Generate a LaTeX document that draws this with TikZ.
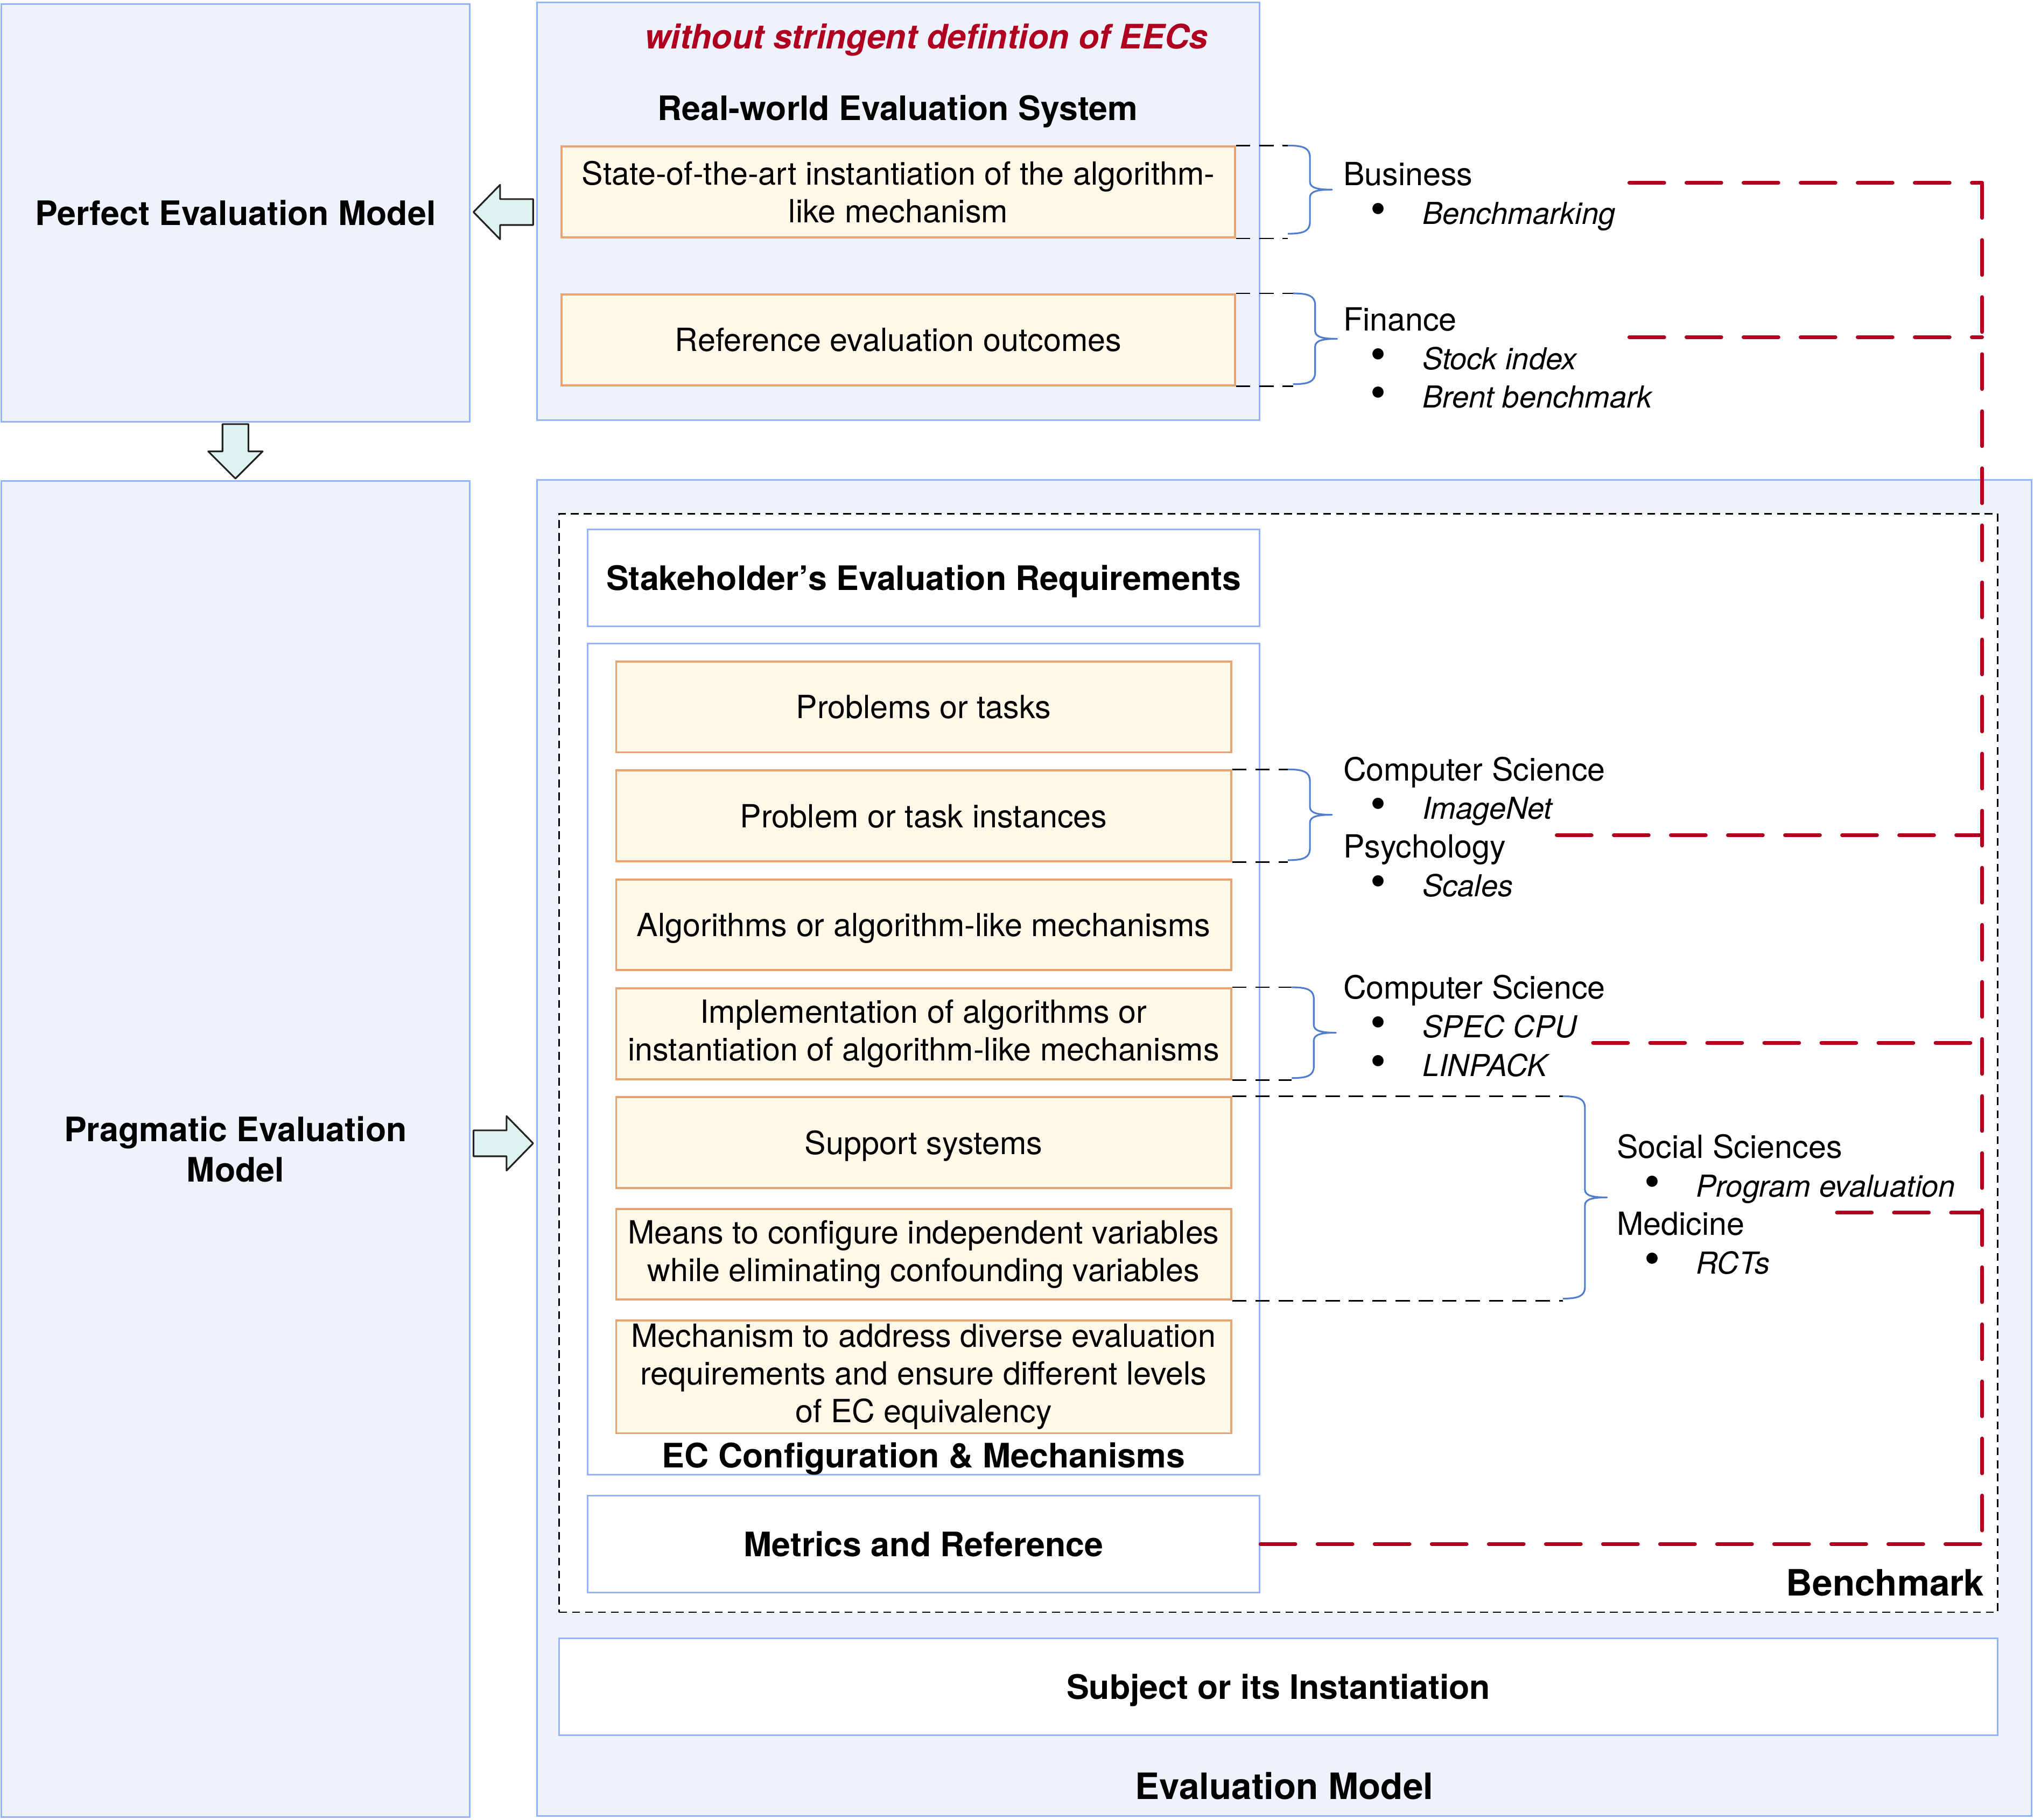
\documentclass[tikz,border=0pt]{standalone}
\usepackage{fontspec}
\setmainfont{TeX Gyre Heros}
\usetikzlibrary{calc}

\definecolor{boxfill}{RGB}{238,242,253}
\definecolor{boxline}{RGB}{148,180,250}
\definecolor{orfill}{RGB}{255,247,232}
\definecolor{orline}{RGB}{232,164,112}
\definecolor{linkred}{RGB}{176,0,32}
\definecolor{braceblue}{RGB}{80,125,205}
\definecolor{arrowfill}{RGB}{222,243,240}
\definecolor{arrowline}{RGB}{34,34,34}

\newcommand{\bul}{\hspace*{21pt}\scalebox{1.4}{\textbullet}\hspace{28pt}}
\newcommand{\ex}[1]{{\fontsize{23.3}{29.7}\selectfont\itshape #1}}
% right-pointing curly brace, #1 = straight part of each half
\newcommand{\curlyto}[1]{.. controls +(12,0) and +(0,-7) .. ++(17,9) -- ++(0,#1) .. controls +(0,5) and +(-10,0) .. ++(17,6) .. controls +(-10,0) and +(0,-5) .. ++(-17,6) -- ++(0,#1) .. controls +(0,7) and +(12,0) .. ++(-17,9)}

\tikzset{every picture/.style={line width=1pt}}
\tikzset{
  bluebox/.style={draw=boxline, fill=boxfill, line width=1.3pt, inner sep=0pt},
  whitebox/.style={draw=boxline, fill=white, line width=1.3pt, inner sep=0pt},
  orangebox/.style={draw=orline, fill=orfill, line width=1.6pt, inner sep=0pt, align=center,
    font=\fontsize{24.6}{29}\selectfont, minimum width=474, minimum height=70},
  boldtext/.style={font=\fontsize{26}{31}\selectfont\bfseries, align=center},
  flat/.style={text depth=0pt},
  sidetext/.style={font=\fontsize{24.6}{29.7}\selectfont, align=left, anchor=west, inner sep=0pt},
  benchbox/.style={draw=black, fill=white, dash pattern=on 6pt off 4pt, line width=1.2pt, inner sep=0pt},
  bracelink/.style={draw=black, dash pattern=on 11pt off 7pt, line width=1.1pt},
  curly/.style={draw=braceblue, line width=1.3pt, line join=round},
  redlink/.style={draw=linkred, line width=2.8pt, dash pattern=on 27pt off 17pt, line cap=round},
  blockarrow/.style={draw=arrowline, fill=arrowfill, line width=1.3pt, line join=round},
}

\begin{document}
\begin{tikzpicture}[x=1pt,y=1pt,yscale=-1,xscale=1]
	\useasboundingbox (0,0) rectangle (1568,1403);

	%Shape: Rectangle [perfect model]
	\node[bluebox, boldtext, flat, minimum width=361, minimum height=322] (perfect) at (181.5,164) {Perfect Evaluation Model};
	%Shape: Rectangle [real-world system]
	\node[bluebox, minimum width=557, minimum height=322] (realworld) at (692.5,163) {};
	\node[orangebox, minimum width=519] (sota) at (692.5,148) {State-of-the-art instantiation of the algorithm-\\like mechanism};
	\node[orangebox, flat, minimum width=519] (refout) at (692.5,262) {Reference evaluation outcomes};
	% Text Node
	\node[boldtext, flat, text=linkred, font=\fontsize{26}{31}\selectfont\bfseries\itshape] (stringent) at (714,28) {without stringent defintion of EECs};
	% Text Node
	\node[boldtext, flat] (rwtitle) at (692,83) {Real-world Evaluation System};

	%Shape: Rectangle [pragmatic model]
	\node[bluebox, boldtext, minimum width=361, minimum height=1030] (pragmatic) at (181.5,886) {Pragmatic Evaluation\\Model};
	%Shape: Rectangle [evaluation model]
	\node[bluebox, minimum width=1152, minimum height=1030] (evalmodel) at (990,885) {};
	\node[benchbox, minimum width=1109, minimum height=847] (bench) at (985.5,819.5) {};
	\node[whitebox, boldtext, flat, minimum width=518, minimum height=75] (stake) at (712,445.5) {Stakeholder’s Evaluation Requirements};
	\node[whitebox, minimum width=518, minimum height=641] (ecconf) at (712,816.5) {};

	%Shape: Rectangle [EC items]
	\node[orangebox, flat] (p1) at (712,545) {Problems or tasks};
	\node[orangebox, flat] (p2) at (712,629) {Problem or task instances};
	\node[orangebox, flat] (p3) at (712,713) {Algorithms or algorithm-like mechanisms};
	\node[orangebox] (p4) at (712,797) {Implementation of algorithms or\\instantiation of algorithm-like mechanisms};
	\node[orangebox, flat] (p5) at (712,881) {Support systems};
	\node[orangebox] (p6) at (712,967) {Means to configure independent variables\\while eliminating confounding variables};
	\node[orangebox, minimum height=87] (p7) at (712,1061.5) {Mechanism to address diverse evaluation\\requirements and ensure different levels\\of EC equivalency};

	\node[whitebox, boldtext, flat, minimum width=518, minimum height=75] (metrics) at (712,1190.5) {Metrics and Reference};
	\node[whitebox, boldtext, flat, minimum width=1109, minimum height=75] (subject) at (985.5,1300.5) {Subject or its Instantiation};

	% Text Node
	\node[boldtext, flat] (eclabel) at (712,1122) {EC Configuration \& Mechanisms};
	% Text Node
	\node[boldtext, flat, font=\fontsize{28}{33}\selectfont\bfseries, anchor=east, inner sep=0pt] (benchlabel) at (1530,1220) {Benchmark};
	% Text Node
	\node[boldtext, flat, font=\fontsize{28}{33}\selectfont\bfseries] (evallabel) at (990,1377) {Evaluation Model};

	% Text Node [fields]
	\node[sidetext] (business) at (1035,151.5) {Business\\\bul\ex{Benchmarking}};
	\node[sidetext] (finance) at (1035,276) {Finance\\\bul\ex{Stock index}\\\bul\ex{Brent benchmark}};
	\node[sidetext] (imagenet) at (1035,637.5) {Computer Science\\\bul\ex{ImageNet}\\Psychology\\\bul\ex{Scales}};
	\node[sidetext] (speccpu) at (1035,791) {Computer Science\\\bul\ex{SPEC CPU}\\\bul\ex{LINPACK}};
	\node[sidetext] (program) at (1246,928.5) {Social Sciences\\\bul\ex{Program evaluation}\\Medicine\\\bul\ex{RCTs}};

	%Braces
	\coordinate (b1t) at ([xshift=40]sota.north east);
	\coordinate (b1b) at ([xshift=40]sota.south east);
	\draw[bracelink] (sota.north east) -- (b1t);
	\draw[bracelink] (sota.south east) -- (b1b);
	\draw[curly] (b1t) \curlyto{19};

	\coordinate (b2t) at ([xshift=44]refout.north east);
	\coordinate (b2b) at ([xshift=44]refout.south east);
	\draw[bracelink] (refout.north east) -- (b2t);
	\draw[bracelink] (refout.south east) -- (b2b);
	\draw[curly] (b2t) \curlyto{20};

	\coordinate (b3t) at ([xshift=43]p2.north east);
	\coordinate (b3b) at ([xshift=43]p2.south east);
	\draw[bracelink] (p2.north east) -- (b3t);
	\draw[bracelink] (p2.south east) -- (b3b);
	\draw[curly] (b3t) \curlyto{20};

	\coordinate (b4t) at ([xshift=46]p4.north east);
	\coordinate (b4b) at ([xshift=46]p4.south east);
	\draw[bracelink] (p4.north east) -- (b4t);
	\draw[bracelink] (p4.south east) -- (b4b);
	\draw[curly] (b4t) \curlyto{20};

	\coordinate (b5t) at ([xshift=255]p5.north east);
	\coordinate (b5b) at ([xshift=255]p6.south east);
	\draw[bracelink] (p5.north east) -- (b5t);
	\draw[bracelink] (p6.south east) -- (b5b);
	\draw[curly] (b5t) \curlyto{63};

	%Red links
	\coordinate (rtop) at (1528,141);
	\coordinate (rbus) at (1256,141);
	\coordinate (rfin) at (1256,260);
	\coordinate (rimg) at (1200,644);
	\coordinate (rspec) at (1228,804);
	\coordinate (rprog) at (1416,935);
	\coordinate (rbot) at (metrics.east -| rtop);
	\draw[redlink] (rbus) -- (rtop);
	\draw[redlink] (rfin) -- (rfin -| rtop);
	\draw[redlink] (rimg) -- (rimg -| rtop);
	\draw[redlink] (rspec) -- (rspec -| rtop);
	\draw[redlink] (rprog) -- (rprog -| rtop);
	\draw[redlink] (metrics.east) -- (rbot);
	\draw[redlink] (rtop) -- (rbot);

	%Block arrows
	\coordinate (la) at ($(perfect.east)!0.5!(realworld.west)$);
	\coordinate (da) at ($(perfect.south)!0.5!(pragmatic.north)$);
	\coordinate (ra) at ($(pragmatic.east)!0.5!(evalmodel.west)$);
	\draw[blockarrow, shift={(la)}] (-23,0) -- (-2.5,-21) -- (-2.5,-10) -- (23,-10) -- (23,10) -- (-2.5,10) -- (-2.5,21) -- cycle;
	\draw[blockarrow, shift={(da)}] (0,21) -- (-21,0) -- (-10,0) -- (-10,-21) -- (10,-21) -- (10,0) -- (21,0) -- cycle;
	\draw[blockarrow, shift={(ra)}] (23,-4) -- (2.5,-25) -- (2.5,-14) -- (-23,-14) -- (-23,6) -- (2.5,6) -- (2.5,17) -- cycle;

\end{tikzpicture}
\end{document}
